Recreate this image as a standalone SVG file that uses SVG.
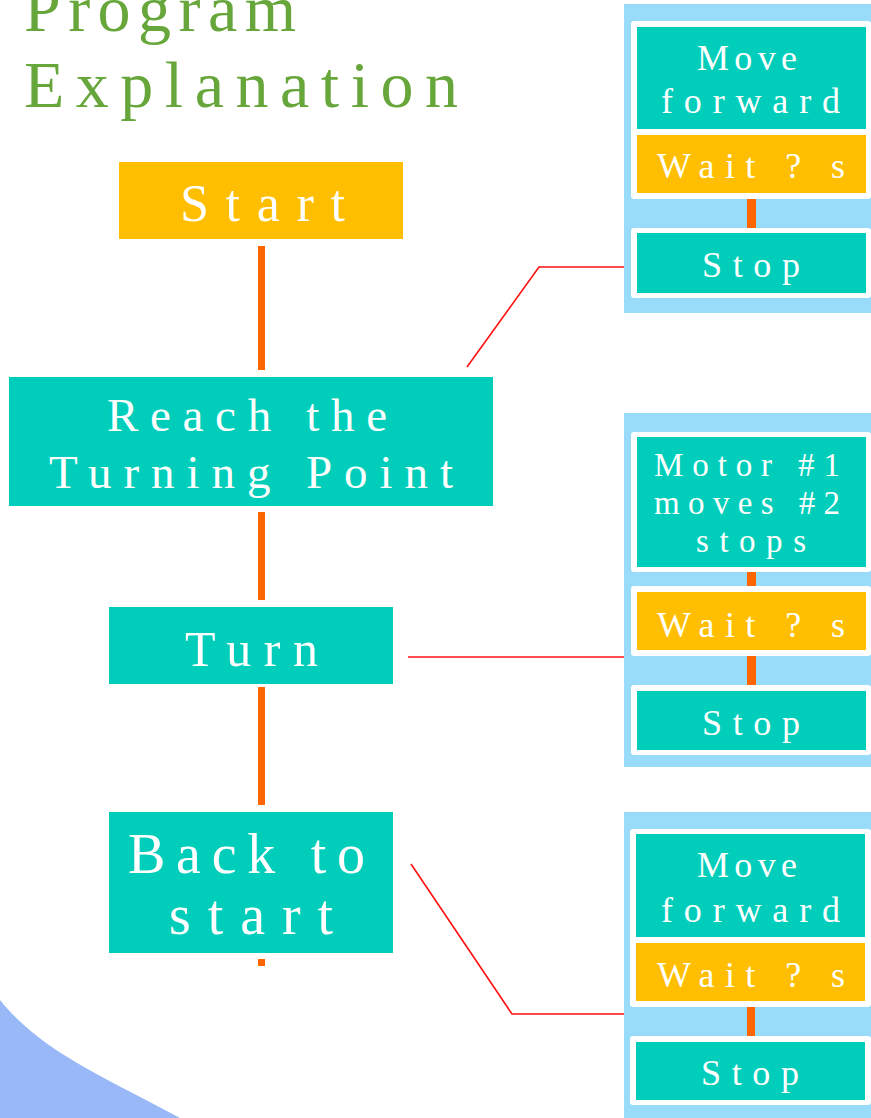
<svg xmlns="http://www.w3.org/2000/svg" width="871" height="1118" viewBox="0 0 871 1118">
<style>
.t{font-family:"Liberation Serif","DejaVu Serif",serif;fill:#fff}
.title{font-family:"Liberation Serif","DejaVu Serif",serif;fill:#67A63A;font-size:66px}
.teal{fill:#00CEBA}
.gold{fill:#FFBF00}
.pan{fill:#99DCF9}
.wb{fill:#fff}
.or{fill:#FF6600}
.red{fill:none;stroke:#FF1010;stroke-width:1.6}
</style>
<rect width="871" height="1118" fill="#fff"/>
<path d="M0,1000 C40,1050 100,1075 180,1118 L0,1118 Z" fill="#98B8F7"/>
<g id="title">
<text class="title" x="24" y="31" textLength="272" lengthAdjust="spacing">Program</text>
<text class="title" x="24" y="107" textLength="434" lengthAdjust="spacing">Explanation</text>
</g>
<g id="connectors">
<rect class="or" x="258" y="246" width="7" height="124"/>
<rect class="or" x="258" y="512" width="7" height="88"/>
<rect class="or" x="258" y="687" width="7" height="118"/>
<rect class="or" x="258" y="959" width="7" height="7"/>
<polyline class="red" points="467,367 539,267 625,267"/>
<line class="red" x1="408" y1="657" x2="625" y2="657"/>
<polyline class="red" points="411,864 512,1014 625,1014"/>
</g>
<g id="start">
<rect class="gold" x="119" y="162" width="284" height="77"/>
<text class="t" x="180" y="221" font-size="52" textLength="165" lengthAdjust="spacing">Start</text>
</g>
<g id="reach">
<rect class="teal" x="9" y="377" width="484" height="129"/>
<text class="t" x="107" y="431" font-size="47" textLength="280" lengthAdjust="spacing">Reach the</text>
<text class="t" x="49" y="488" font-size="47" textLength="404" lengthAdjust="spacing">Turning Point</text>
</g>
<g id="turn">
<rect class="teal" x="109" y="607" width="284" height="77"/>
<text class="t" x="185" y="666" font-size="50" textLength="133" lengthAdjust="spacing">Turn</text>
</g>
<g id="back">
<rect class="teal" x="109" y="812" width="284" height="141"/>
<text class="t" x="128" y="873" font-size="56" textLength="237" lengthAdjust="spacing">Back to</text>
<text class="t" x="169" y="934" font-size="56" textLength="164" lengthAdjust="spacing">start</text>
</g>
<g id="panel1">
<rect class="pan" x="624" y="4" width="247" height="309"/>
<rect class="wb" x="631" y="21" width="240" height="178" rx="3"/>
<rect class="teal" x="637" y="27" width="229" height="102"/>
<rect class="gold" x="637" y="135" width="229" height="58"/>
<rect class="or" x="747" y="199" width="9" height="29"/>
<rect class="wb" x="631" y="228" width="240" height="70" rx="3"/>
<rect class="teal" x="637" y="233" width="229" height="60"/>
<text class="t" x="697" y="70" font-size="36" textLength="100" lengthAdjust="spacing">Move</text>
<text class="t" x="661" y="113" font-size="36" textLength="179" lengthAdjust="spacing">forward</text>
<text class="t" x="657" y="178" font-size="36" textLength="188" lengthAdjust="spacing">Wait ? s</text>
<text class="t" x="702" y="277" font-size="36" textLength="98" lengthAdjust="spacing">Stop</text>
</g>
<g id="panel2">
<rect class="pan" x="624" y="413" width="247" height="354"/>
<rect class="wb" x="631" y="432" width="240" height="140" rx="3"/>
<rect class="teal" x="637" y="437" width="229" height="130"/>
<rect class="or" x="747" y="572" width="9" height="14"/>
<rect class="wb" x="631" y="586" width="240" height="70" rx="3"/>
<rect class="gold" x="637" y="592" width="229" height="58"/>
<rect class="or" x="747" y="656" width="9" height="29"/>
<rect class="wb" x="631" y="685" width="240" height="70" rx="3"/>
<rect class="teal" x="637" y="691" width="229" height="59"/>
<text class="t" x="654" y="476" font-size="33" textLength="186" lengthAdjust="spacing">Motor #1</text>
<text class="t" x="654" y="514" font-size="33" textLength="186" lengthAdjust="spacing">moves #2</text>
<text class="t" x="696" y="552" font-size="33" textLength="110" lengthAdjust="spacing">stops</text>
<text class="t" x="657" y="637" font-size="36" textLength="188" lengthAdjust="spacing">Wait ? s</text>
<text class="t" x="702" y="735" font-size="36" textLength="98" lengthAdjust="spacing">Stop</text>
</g>
<g id="panel3">
<rect class="pan" x="624" y="812" width="247" height="306"/>
<rect class="wb" x="630" y="829" width="241" height="178" rx="3"/>
<rect class="teal" x="636" y="834" width="229" height="103"/>
<rect class="gold" x="636" y="943" width="229" height="58"/>
<rect class="or" x="747" y="1007" width="8" height="29"/>
<rect class="wb" x="630" y="1036" width="241" height="69" rx="3"/>
<rect class="teal" x="636" y="1042" width="229" height="58"/>
<text class="t" x="697" y="877" font-size="36" textLength="100" lengthAdjust="spacing">Move</text>
<text class="t" x="661" y="922" font-size="36" textLength="179" lengthAdjust="spacing">forward</text>
<text class="t" x="657" y="987" font-size="36" textLength="188" lengthAdjust="spacing">Wait ? s</text>
<text class="t" x="701" y="1085" font-size="36" textLength="98" lengthAdjust="spacing">Stop</text>
</g>
</svg>
